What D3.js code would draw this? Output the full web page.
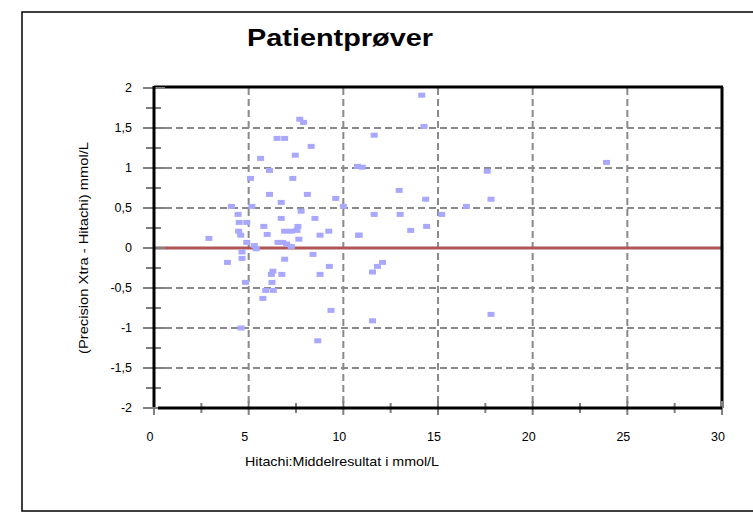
<!DOCTYPE html>
<html>
<head>
<meta charset="utf-8">
<script src="https://cdn.jsdelivr.net/npm/d3@7/dist/d3.min.js"></script>
<style>
  html, body { margin: 0; padding: 0; background: #fff; }
  svg { display: block; }
  text { font-family: "Liberation Sans", Arial, sans-serif; fill: #000; }
</style>
</head>
<body>
<svg id="chart" width="753" height="529"></svg>
<script>
// ---- data ----
const title = "Patientprøver";
const xLabel = "Hitachi:Middelresultat i mmol/L";
const yLabel = "(Precision Xtra - Hitachi) mmol/L";
const xTicks = [0, 5, 10, 15, 20, 25, 30];
const yTicks = [2, 1.5, 1, 0.5, 0, -0.5, -1, -1.5, -2];
const xMean = [
  7.7, 7.9, 6.5, 6.9, 8.3, 5.63, 7.46, 6.1, 10.75, 11.0,
  5.1, 7.33, 6.1, 8.1, 6.72, 9.6, 4.09, 5.17, 10.0, 4.44,
  7.77, 4.5, 4.9, 6.72, 8.5, 5.8, 7.6, 4.47, 4.58, 5.98,
  6.9, 7.25, 7.55, 9.23, 8.77, 10.8, 2.9, 7.65, 4.9, 6.55,
  6.8, 7.0, 7.25, 5.3, 5.4, 4.65, 8.4, 3.88, 4.65, 6.9,
  9.26, 6.28, 6.2, 6.75, 8.77, 4.83, 6.23, 5.9, 6.3, 5.75,
  9.35, 4.6, 8.65, 14.14, 14.26, 11.63, 17.6, 12.95, 14.35, 17.8,
  16.5, 11.63, 13.0, 15.2, 13.56, 14.4, 10.84, 12.07, 11.8, 11.54,
  11.54, 17.8, 23.9
];
const yDiff = [
  1.61, 1.57, 1.37, 1.37, 1.27, 1.12, 1.16, 0.97, 1.02, 1.01,
  0.87, 0.87, 0.67, 0.67, 0.57, 0.62, 0.52, 0.52, 0.52, 0.42,
  0.46, 0.32, 0.32, 0.37, 0.37, 0.27, 0.27, 0.21, 0.16, 0.17,
  0.21, 0.21, 0.22, 0.21, 0.16, 0.16, 0.12, 0.11, 0.07, 0.07,
  0.07, 0.05, 0.02, 0.03, -0.01, -0.05, -0.08, -0.18, -0.13, -0.14,
  -0.23, -0.29, -0.33, -0.33, -0.33, -0.43, -0.43, -0.53, -0.53, -0.63,
  -0.78, -1.0, -1.16, 1.91, 1.52, 1.41, 0.96, 0.72, 0.61, 0.61,
  0.52, 0.42, 0.42, 0.42, 0.22, 0.27, 0.16, -0.18, -0.23, -0.3,
  -0.91, -0.83, 1.07
];

// ---- layout ----
const svg = d3.select("#chart");
const L = 154, R = 722, T = 88, B = 408;
const x = d3.scaleLinear().domain([0, 30]).range([L, R]);
const y = d3.scaleLinear().domain([-2, 2]).range([B, T]);
const fmt = d => String(d).replace(".", ",");

// outer frame
svg.append("rect").attr("x", 22).attr("y", 12).attr("width", 760).attr("height", 499)
  .attr("fill", "none").attr("stroke", "#000").attr("stroke-width", 1.5);

// title
svg.append("text").attr("x", 340).attr("y", 46).attr("text-anchor", "middle")
  .attr("textLength", 186).attr("lengthAdjust", "spacingAndGlyphs")
  .style("font-size", "24px").style("font-weight", "bold").text(title);

// gridlines
const grid = svg.append("g");
grid.selectAll(".gx").data(xTicks.filter(d => d > 0 && d < 30)).join("line")
  .attr("x1", d => x(d)).attr("x2", d => x(d)).attr("y1", T).attr("y2", B)
  .attr("stroke", "#8a8a8a").attr("stroke-width", 2).attr("stroke-dasharray", "7,4");
grid.selectAll(".gy").data(yTicks.filter(d => d !== 0 && Math.abs(d) < 2)).join("line")
  .attr("x1", L).attr("x2", R).attr("y1", d => y(d)).attr("y2", d => y(d))
  .attr("stroke", "#8a8a8a").attr("stroke-width", 2).attr("stroke-dasharray", "7,4");

// zero line
svg.append("line").attr("x1", L).attr("x2", R).attr("y1", y(0)).attr("y2", y(0))
  .attr("stroke", "#b05555").attr("stroke-width", 3);

// points
svg.append("g").selectAll("rect").data(xMean.map((v, i) => [v, yDiff[i]])).join("rect")
  .attr("x", d => x(d[0]) - 3.5).attr("y", d => y(d[1]) - 2.5)
  .attr("width", 7).attr("height", 5).attr("fill", "#a8a8ff");

// plot frame (top/right)
svg.append("line").attr("x1", L).attr("x2", R + 1).attr("y1", T - 1).attr("y2", T - 1)
  .attr("stroke", "#000").attr("stroke-width", 3);
svg.append("line").attr("x1", R).attr("x2", R).attr("y1", T - 1).attr("y2", B)
  .attr("stroke", "#000").attr("stroke-width", 3);

// y ticks (major + minor)
const yMinor = d3.range(-2, 2.001, 0.25);
const isMajorY = d => Math.abs(d * 2 - Math.round(d * 2)) < 1e-6;
svg.append("g").selectAll("line").data(yMinor).join("line")
  .attr("x1", d => isMajorY(d) ? L - 11 : L - 8)
  .attr("x2", d => isMajorY(d) ? L + 11 : L + 7)
  .attr("y1", d => y(d)).attr("y2", d => y(d))
  .attr("stroke", "#808080").attr("stroke-width", 2);
// x ticks
const xMinor = d3.range(0, 30.001, 2.5);
svg.append("g").selectAll("line").data(xMinor).join("line")
  .attr("x1", d => x(d)).attr("x2", d => x(d))
  .attr("y1", d => d % 5 === 0 ? B - 7 : B - 5)
  .attr("y2", d => d % 5 === 0 ? B + 7 : B + 5)
  .attr("stroke", "#808080").attr("stroke-width", 2);

// black axis lines over ticks
svg.append("line").attr("x1", L).attr("x2", L).attr("y1", T - 2).attr("y2", B - 1)
  .attr("stroke", "#000").attr("stroke-width", 3);
svg.append("line").attr("x1", L + 4).attr("x2", R).attr("y1", B).attr("y2", B)
  .attr("stroke", "#000").attr("stroke-width", 3);

// tick labels
svg.append("g").selectAll("text").data(yTicks).join("text")
  .attr("x", 132).attr("y", d => y(d) + 4).attr("text-anchor", "end")
  .style("font-size", "12.5px").text(fmt);
svg.append("g").selectAll("text").data(xTicks).join("text")
  .attr("x", d => x(d) - 4).attr("y", 441).attr("text-anchor", "middle")
  .style("font-size", "12.5px").text(fmt);

// axis titles
svg.append("text").attr("x", 342).attr("y", 466).attr("text-anchor", "middle")
  .attr("textLength", 194).attr("lengthAdjust", "spacingAndGlyphs")
  .style("font-size", "13px").text(xLabel);
svg.append("text").attr("transform", `translate(88,${(T + B) / 2}) rotate(-90)`)
  .attr("text-anchor", "middle")
  .attr("textLength", 212).attr("lengthAdjust", "spacingAndGlyphs")
  .style("font-size", "12.5px").text(yLabel);
</script>
</body>
</html>
